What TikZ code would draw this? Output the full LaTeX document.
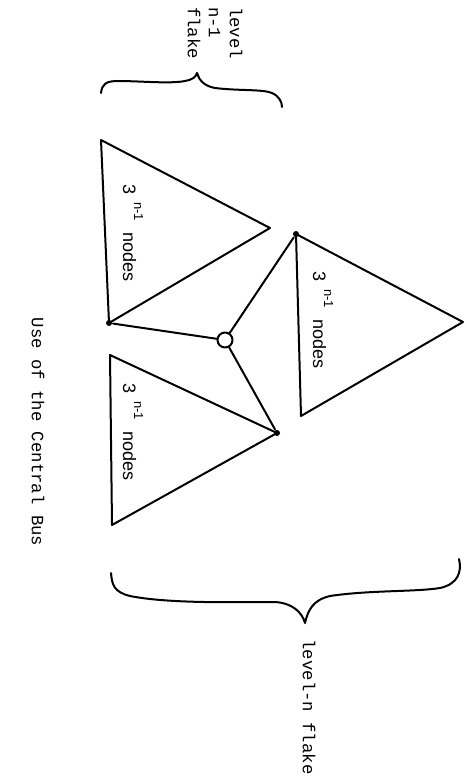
\documentclass[tikz,border=0pt]{standalone}
\usepackage{fontspec}
\setmainfont{Liberation Sans}
\newfontfamily\tw{Liberation Mono}
\begin{document}
\begin{tikzpicture}[x=1pt,y=-1pt, line width=2pt, line join=round, line cap=round,
  lbl/.style={font=\tw\fontsize{17.3}{21}\selectfont, rotate=-90, inner sep=0pt, align=left},
  cnt/.style={font=\fontsize{18}{20}\selectfont, rotate=-90, inner sep=0pt, anchor=base west},
  dot/.style={circle, fill=black, inner sep=0pt, minimum size=6pt},
  bus/.style={circle, draw, fill=white, inner sep=0pt, minimum size=15pt, line width=2pt}]
\useasboundingbox (0,0) rectangle (466,781);
% triangle A (top left)
\coordinate (a1) at (101,140);
\coordinate (a2) at (270,228);
\node[dot] (a3) at (109,323) {};
% triangle B (right)
\node[dot] (b1) at (296,234) {};
\coordinate (b2) at (463,322);
\coordinate (b3) at (301,416);
% triangle C (bottom left)
\coordinate (c1) at (110,355);
\node[dot] (c2) at (277,433) {};
\coordinate (c3) at (112,525);
\draw (a1) -- (a2) -- (a3.center) -- cycle;
\draw (b1.center) -- (b2) -- (b3) -- cycle;
\draw (c1) -- (c2.center) -- (c3) -- cycle;
% central bus
\node[bus] (bus) at (225,340) {};
\draw (bus) -- (a3);
\draw (bus) -- (b1);
\draw (bus) -- (c2);
% texts in triangles
\node[cnt] (ta) at (123,183) {3\hspace{0.45em}\raisebox{0.62em}{\fontsize{13}{13}\selectfont n-1}\hspace{0.65em}nodes};
\node[cnt] (tb) at (313,270) {3\hspace{0.45em}\raisebox{0.62em}{\fontsize{13}{13}\selectfont n-1}\hspace{0.65em}nodes};
\node[cnt] (tc) at (123,382) {3\hspace{0.45em}\raisebox{0.62em}{\fontsize{13}{13}\selectfont n-1}\hspace{0.65em}nodes};
% top brace
\draw (101,93) .. controls (102,84) and (106,81) .. (118,81)
  .. controls (140,81) and (170,84) .. (185,81)
  .. controls (192,80) and (196,77) .. (197,73)
  .. controls (199,80) and (204,86) .. (215,88)
  .. controls (240,91) and (262,89) .. (272,93)
  .. controls (279,96) and (282,102) .. (282,107);
% bottom brace
\draw (111,573) .. controls (112,585) and (114,592) .. (130,596)
  .. controls (170,604) and (240,602) .. (275,602)
  .. controls (292,603) and (302,612) .. (305,623)
  .. controls (308,610) and (313,600) .. (330,596)
  .. controls (370,590) and (415,592) .. (440,588)
  .. controls (458,584) and (462,572) .. (459,559);
% labels
\node[lbl] (lvl1) at (215,33) {level\\n-1\\flake};
\node[lbl] (lvln) at (309,707) {level-n flake};
\node[lbl] (title) at (38,432) {Use of the Central Bus};
\end{tikzpicture}
\end{document}
